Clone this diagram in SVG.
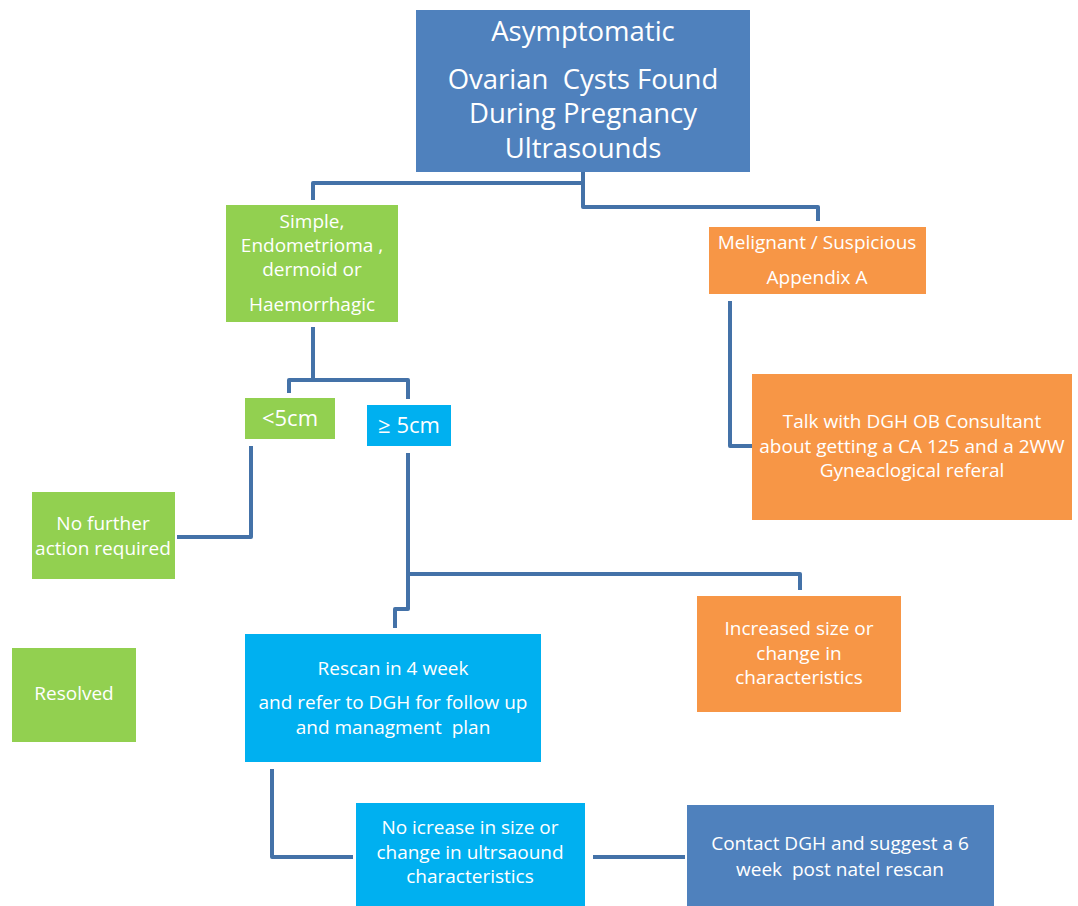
<svg xmlns="http://www.w3.org/2000/svg" width="1078" height="906" viewBox="0 0 1078 906">
<style>
.box{stroke:none}
.g{fill:#92D050}.o{fill:#F79646}.c{fill:#00B0F0}.b{fill:#4F81BD}
text{font-family:"Open Sans","Liberation Sans",sans-serif;fill:#fff;text-anchor:middle;dominant-baseline:central;white-space:pre}
.t{font-size:27.5px}
.s{font-size:19px}
.m{font-size:22px}
.con path{fill:none;stroke:#4472A8;stroke-width:4;stroke-linejoin:round}
</style>
<rect width="1078" height="906" fill="#fff"/>
<g class="con">
<path d="M583 172 V183 H313 V200"/>
<path d="M583 183 V207 H818 V221"/>
<path d="M313 327 V380 H289 V393"/>
<path d="M313 380 H408 V399"/>
<path d="M251 446 V537 H177"/>
<path d="M730 301 V446 H752"/>
<path d="M408 453 V574 H800 V590"/>
<path d="M408 574 V609 H395 V628"/>
<path d="M272 769 V857 H353"/>
<path d="M593 857 H685"/>
</g>
<g id="n-top"><rect class="box b" x="416" y="10" width="334" height="162"/>
<text class="t" x="583" y="30">Asymptomatic</text>
<text class="t" x="583" y="78" xml:space="preserve">Ovarian  Cysts Found</text>
<text class="t" x="583" y="112">During Pregnancy</text>
<text class="t" x="583" y="147">Ultrasounds</text></g>
<g id="n-simple"><rect class="box g" x="226" y="205" width="172" height="117"/>
<text class="s" x="312" y="221">Simple,</text>
<text class="s" x="312" y="245" xml:space="preserve">Endometrioma ,</text>
<text class="s" x="312" y="269">dermoid or</text>
<text class="s" x="312" y="304">Haemorrhagic</text></g>
<g id="n-malignant"><rect class="box o" x="709" y="227" width="217" height="67"/>
<text class="s" x="817" y="242">Melignant / Suspicious</text>
<text class="s" x="817" y="277">Appendix A</text></g>
<g id="n-lt5"><rect class="box g" x="245" y="398" width="90" height="41"/>
<text class="m" x="290" y="417">&lt;5cm</text></g>
<g id="n-ge5"><rect class="box c" x="367" y="405" width="84" height="41"/>
<text class="m" x="409" y="424">≥ 5cm</text></g>
<g id="n-nofurther"><rect class="box g" x="32" y="492" width="143" height="87"/>
<text class="s" x="103" y="523">No further</text>
<text class="s" x="103" y="548">action required</text></g>
<g id="n-talk"><rect class="box o" x="752" y="374" width="320" height="146"/>
<text class="s" x="912" y="421">Talk with DGH OB Consultant</text>
<text class="s" x="912" y="446">about getting a CA 125 and a 2WW</text>
<text class="s" x="912" y="470">Gyneaclogical referal</text></g>
<g id="n-increased"><rect class="box o" x="697" y="596" width="204" height="116"/>
<text class="s" x="799" y="628">Increased size or</text>
<text class="s" x="799" y="653">change in</text>
<text class="s" x="799" y="677">characteristics</text></g>
<g id="n-resolved"><rect class="box g" x="12" y="648" width="124" height="94"/>
<text class="s" x="74" y="693">Resolved</text></g>
<g id="n-rescan"><rect class="box c" x="245" y="634" width="296" height="128"/>
<text class="s" x="393" y="668">Rescan in 4 week</text>
<text class="s" x="393" y="702">and refer to DGH for follow up</text>
<text class="s" x="393" y="727" xml:space="preserve">and managment  plan</text></g>
<g id="n-noincrease"><rect class="box c" x="356" y="803" width="229" height="103"/>
<text class="s" x="470" y="827">No icrease in size or</text>
<text class="s" x="470" y="852">change in ultrsaound</text>
<text class="s" x="470" y="876">characteristics</text></g>
<g id="n-contact"><rect class="box b" x="687" y="805" width="307" height="101"/>
<text class="s" x="840" y="843">Contact DGH and suggest a 6</text>
<text class="s" x="840" y="869" xml:space="preserve">week  post natel rescan</text></g>
</svg>
